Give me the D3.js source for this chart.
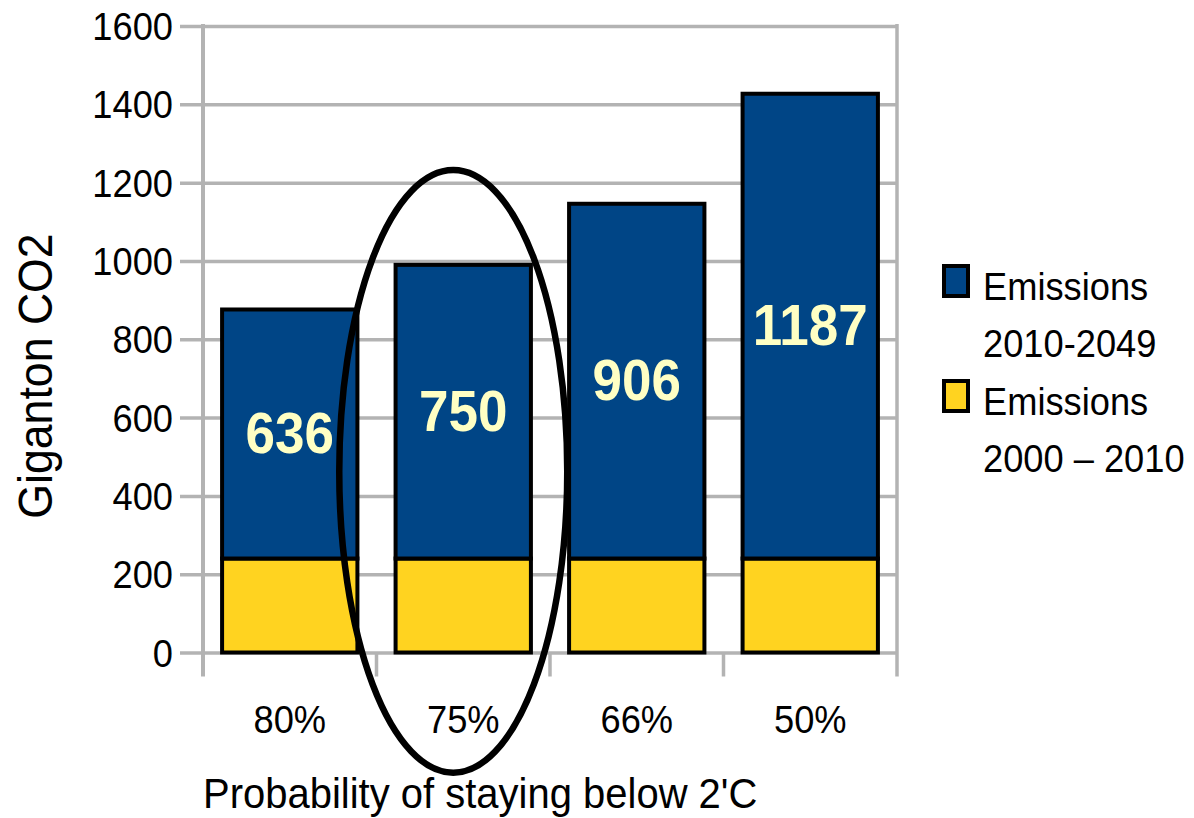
<!DOCTYPE html>
<html>
<head>
<meta charset="utf-8">
<script src="https://cdn.jsdelivr.net/npm/d3@7"></script>
<style>
  html, body { margin: 0; padding: 0; background: #fff; }
  svg { display: block; }
  text { font-family: "Liberation Sans", Arial, sans-serif; }
</style>
</head>
<body>
<svg id="chart" width="1194" height="818"></svg>
<script>
// Carbon budget by probability of staying below 2'C (Gt CO2)
const categories = ["80%", "75%", "66%", "50%"];
const emissionsPast = [240, 240, 240, 240];      // Emissions 2000 – 2010
const emissionsFuture = [636, 750, 906, 1187];   // Emissions 2010-2049
const yTicks = [0, 200, 400, 600, 800, 1000, 1200, 1400, 1600];
const seriesNames = [["Emissions", "2010-2049"], ["Emissions", "2000 – 2010"]];
const highlighted = "75%";

const blue = "#004586", yellow = "#ffd320", grid = "#b3b3b3";
const svg = d3.select("#chart");

const plotL = 203, plotR = 897, plotT = 26, plotB = 652.5;
const x = d3.scaleBand().domain(categories).range([plotL, plotR])
  .paddingInner(0.22).paddingOuter(0.11);
const y = d3.scaleLinear().domain([0, 1600]).range([plotB, plotT]);

// text helper: slightly condensed glyphs
function label(g, tx, ty, str, size, opts = {}) {
  return g.append("text")
    .attr("transform", `translate(${tx},${ty}) scale(0.93,1)`)
    .attr("text-anchor", opts.anchor || "start")
    .attr("font-size", size)
    .attr("font-weight", opts.weight || "normal")
    .attr("fill", opts.fill || "#000")
    .text(str);
}

// horizontal grid with ticks extending left of the axis
const yAxis = d3.axisLeft(y).tickValues(yTicks).tickSize(-(plotR - plotL)).tickFormat("");
const ga = svg.append("g").attr("transform", `translate(${plotL},0)`).call(yAxis);
ga.select(".domain").remove();
ga.selectAll(".tick line").attr("stroke", grid).attr("stroke-width", 3.5)
  .attr("x1", -23);

// vertical axis, right frame and category separators
const seps = d3.range(categories.length + 1).map(i => plotL + i * x.step());
svg.append("g").selectAll("line").data(seps).join("line")
  .attr("x1", d => d).attr("x2", d => d)
  .attr("y1", (d, i) => (i === 0 || i === seps.length - 1) ? plotT - 2 : plotB)
  .attr("y2", plotB + 24)
  .attr("stroke", grid).attr("stroke-width", (d, i) => i === 0 ? 4 : 3.5);

// tick labels
const tl = svg.append("g");
yTicks.forEach(v => label(tl, 173, y(v) + 14, String(v), 39, { anchor: "end" }));

// stacked bars
const rows = categories.map((c, i) => ({ c, past: emissionsPast[i], future: emissionsFuture[i] }));
const bars = svg.append("g");
bars.selectAll("rect.past").data(rows).join("rect").attr("class", "past")
  .attr("x", d => x(d.c)).attr("width", x.bandwidth())
  .attr("y", d => y(d.past)).attr("height", d => y(0) - y(d.past))
  .attr("fill", yellow).attr("stroke", "#000").attr("stroke-width", 4);
bars.selectAll("rect.future").data(rows).join("rect").attr("class", "future")
  .attr("x", d => x(d.c)).attr("width", x.bandwidth())
  .attr("y", d => y(d.past + d.future)).attr("height", d => y(d.past) - y(d.past + d.future))
  .attr("fill", blue).attr("stroke", "#000").attr("stroke-width", 4);

// value labels centred in the upper segment
const vl = svg.append("g");
rows.forEach(d => {
  const cy = (y(d.past) + y(d.past + d.future)) / 2;
  label(vl, x(d.c) + x.bandwidth() / 2, cy + 19, String(d.future), 57,
    { anchor: "middle", weight: "bold", fill: "#ffffc4" });
});

// category labels
const cl = svg.append("g");
categories.forEach(c => label(cl, x(c) + x.bandwidth() / 2, 733, c, 39, { anchor: "middle" }));

// axis titles
label(svg, plotL, 808, "Probability of staying below 2'C", 43);
svg.append("text")
  .attr("transform", `translate(52,376) rotate(-90) scale(0.93,1)`)
  .attr("text-anchor", "middle").attr("font-size", 48).attr("fill", "#000")
  .text("Giganton CO2");

// legend
const lg = svg.append("g");
[blue, yellow].forEach((col, i) => {
  const oy = i * 115;
  lg.append("rect").attr("x", 944).attr("y", 266 + oy).attr("width", 24).attr("height", 30)
    .attr("fill", col).attr("stroke", "#000").attr("stroke-width", 4);
  label(lg, 983, 300 + oy, seriesNames[i][0], 39);
  label(lg, 983, 357 + oy, seriesNames[i][1], 39);
});

// highlight ring around the selected probability
const hx = x(highlighted) + x.bandwidth() / 2 - 10;
svg.append("ellipse")
  .attr("cx", hx).attr("cy", (y(1232) + y(-307)) / 2)
  .attr("rx", 114).attr("ry", (y(-307) - y(1232)) / 2)
  .attr("fill", "none").attr("stroke", "#000").attr("stroke-width", 6.5);
</script>
</body>
</html>
